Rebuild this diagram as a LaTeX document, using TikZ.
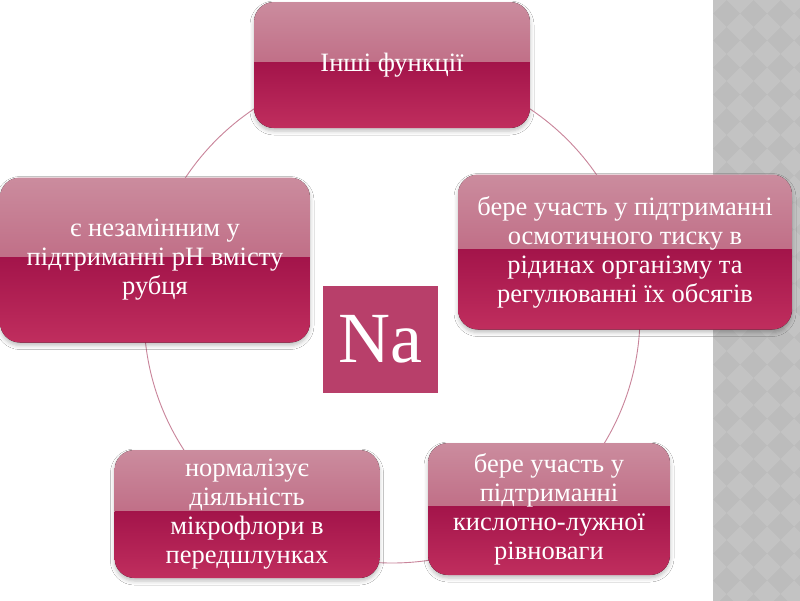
\documentclass[tikz,border=0pt]{standalone}
\usepackage{fontspec}
\setmainfont{Liberation Serif}
\usetikzlibrary{shadows.blur}
\definecolor{topA}{HTML}{CB8C9E}
\definecolor{topB}{HTML}{B5506F}
\definecolor{botA}{HTML}{A3144A}
\definecolor{botB}{HTML}{C02E5E}
\definecolor{ring}{HTML}{C9849A}
\definecolor{naC}{HTML}{B83F6A}
\definecolor{stripA}{HTML}{BCBCBC}
\definecolor{stripB}{HTML}{C3C3C3}
\tikzset{
  gloss/.style={rounded corners=20pt, text=white, align=center,
    font=\fontsize{26.5}{29}\selectfont, inner sep=4pt,
    blur shadow={shadow xshift=0pt, shadow yshift=-3pt, shadow blur radius=4pt, shadow opacity=25},
    path picture={
      \fill[sharp corners, top color=topA,bottom color=topB] (path picture bounding box.north west) rectangle ([yshift=3pt]path picture bounding box.east);
      \fill[sharp corners, top color=botA,bottom color=botB] ([yshift=3pt]path picture bounding box.west) rectangle (path picture bounding box.south east);
    }},
  ringline/.style={draw=ring, line width=0.9pt},
  nabox/.style={fill=naC, text=white, inner sep=0pt, font=\fontsize{72}{72}\selectfont},
}
\begin{document}
\begin{tikzpicture}[x=1pt,y=-1pt]
\useasboundingbox (0,0) rectangle (800,600);
\fill[white] (0,0) rectangle (800,600);
% right patterned strip
\begin{scope}
  \clip (713,-2) rectangle (802,602);
  \fill[stripA] (713,-2) rectangle (802,602);
  \foreach \i in {0,...,4}{
    \foreach \j in {0,...,24}{
      \fill[stripB] ({713+27*\i},{27*\j-13.5}) -- ++(13.5,13.5) -- ++(-13.5,13.5) -- ++(-13.5,-13.5) -- cycle;
    }
  }
\end{scope}
% ring
\draw[ringline] (392,315) circle[radius=248pt];
% boxes
\node[gloss, minimum width=276pt, minimum height=126pt] (top) at (392,65) {Інші функції};
\node[gloss, minimum width=310pt, minimum height=165pt] (left) at (155,260) {є незамінним у\\підтриманні рН вмісту\\рубця};
\node[gloss, minimum width=334pt, minimum height=155pt] (right) at (625,252) {бере участь у підтриманні\\осмотичного тиску в\\рідинах організму та\\регулюванні їх обсягів};
\node[gloss, minimum width=242pt, minimum height=132pt] (br) at (549,509) {бере участь у\\підтриманні\\кислотно-лужної\\рівноваги};
\node[gloss, minimum width=265pt, minimum height=128pt] (bl) at (247,514) {нормалізує\\діяльність\\мікрофлори в\\передшлунках};
\node[nabox, minimum width=115pt, minimum height=107pt] (na) at (380,339) {Na};
\end{tikzpicture}
\end{document}
